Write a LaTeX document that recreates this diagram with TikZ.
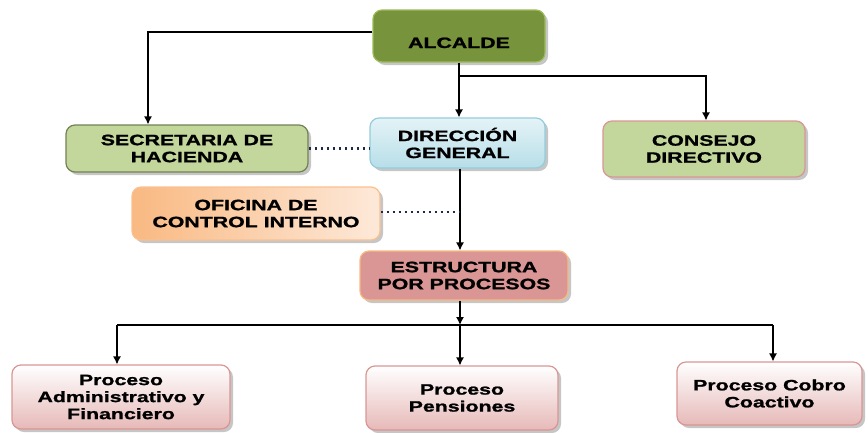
\documentclass[tikz,border=0pt]{standalone}
\usepackage{fontspec}
\setmainfont{Liberation Sans}[FakeStretch=1.42, BoldFeatures={FakeBold=1.2}]
\usetikzlibrary{shadows,arrows.meta}
\definecolor{alcfill}{HTML}{77933C}
\definecolor{alcborder}{HTML}{9BBB59}
\definecolor{lgreen}{HTML}{C3D69B}
\definecolor{dgreen}{HTML}{4F6228}
\definecolor{lblue1}{HTML}{E4F3F7}
\definecolor{lblue2}{HTML}{B7DEE8}
\definecolor{bblue}{HTML}{93CDDD}
\definecolor{rose}{HTML}{D99694}
\definecolor{orange1}{HTML}{F9B982}
\definecolor{orange2}{HTML}{FDE9D9}
\definecolor{oborder}{HTML}{FAC090}
\definecolor{pink1}{HTML}{FFFFFF}
\definecolor{pink2}{HTML}{E6B9B8}
\definecolor{dotcol}{HTML}{1F2A4A}
\begin{document}
\begin{tikzpicture}[x=1pt,y=-1pt,
  box/.style={rounded corners=9pt, align=center, line width=1.2pt,
    font=\fontsize{15}{17}\selectfont\bfseries, text=black,
    drop shadow={opacity=0.45, shadow xshift=3pt, shadow yshift=-3pt}},
  arr/.style={-{Latex[length=8pt,width=8pt]}, line width=1.2pt},
  ln/.style={line width=1.2pt},
  dot/.style={dash pattern=on 2.5pt off 3.5pt, line width=2.4pt, color=dotcol}]
\useasboundingbox (0,0) rectangle (868,432);
\node[box, fill=alcfill, draw=alcborder, minimum width=172pt, minimum height=52pt] (alc) at (459,36) {\raisebox{-12pt}[0pt][0pt]{ALCALDE}};
\node[box, fill=lgreen, draw=dgreen!80, minimum width=242pt, minimum height=47pt] (sec) at (187,148.5) {SECRETARIA DE\\HACIENDA};
\node[box, top color=lblue1, bottom color=lblue2, draw=bblue, minimum width=175pt, minimum height=50pt] (dir) at (457.5,143) {DIRECCIÓN\\GENERAL};
\node[box, fill=lgreen, draw=rose, minimum width=202pt, minimum height=56pt] (con) at (704,149) {CONSEJO\\DIRECTIVO};
\node[box, left color=orange1, right color=orange2, draw=oborder, minimum width=248pt, minimum height=53pt] (ofi) at (256,213.5) {OFICINA DE\\CONTROL INTERNO};
\node[box, fill=rose, draw=orange1, minimum width=208pt, minimum height=49pt] (est) at (464,275.5) {ESTRUCTURA\\POR PROCESOS};
\node[box, top color=pink1, bottom color=pink2, draw=rose, minimum width=218pt, minimum height=64pt] (p1) at (121,397) {Proceso\\Administrativo y\\Financiero};
\node[box, top color=pink1, bottom color=pink2, draw=rose, minimum width=192pt, minimum height=64pt] (p2) at (462,398) {Proceso\\Pensiones};
\node[box, top color=pink1, bottom color=pink2, draw=rose, minimum width=185pt, minimum height=63pt] (p3) at (769.5,393.5) {Proceso Cobro\\Coactivo};
% coordinates
\coordinate (tl) at (148,32);
\coordinate (tr) at (706,76);
\coordinate (tm) at (459,76);
\coordinate (bl) at (117,325);
\coordinate (bm) at (460,325);
\coordinate (br) at (773,325);
\coordinate (sp) at (460,212);
% connectors
\draw[arr] (alc.west |- tl) -- (tl) -- (sec.north -| tl);
\draw[ln] (alc.south -| tm) -- (tm);
\draw[arr] (tm) -- (dir.north -| tm);
\draw[arr] (tm) -- (tr) -- (con.north -| tr);
\draw[arr] (dir.south -| sp) -- (est.north -| sp);
\draw[dot] (sec.east) -- (dir.west |- sec.east);
\draw[dot] (ofi.east |- sp) -- (sp);
\draw[arr] (est.south -| bm) -- (bm);
\draw[ln] (bl) -- (br);
\draw[arr] (bl) -- (p1.north -| bl);
\draw[arr] (bm) -- (p2.north -| bm);
\draw[arr] (br) -- (p3.north -| br);
\end{tikzpicture}
\end{document}
